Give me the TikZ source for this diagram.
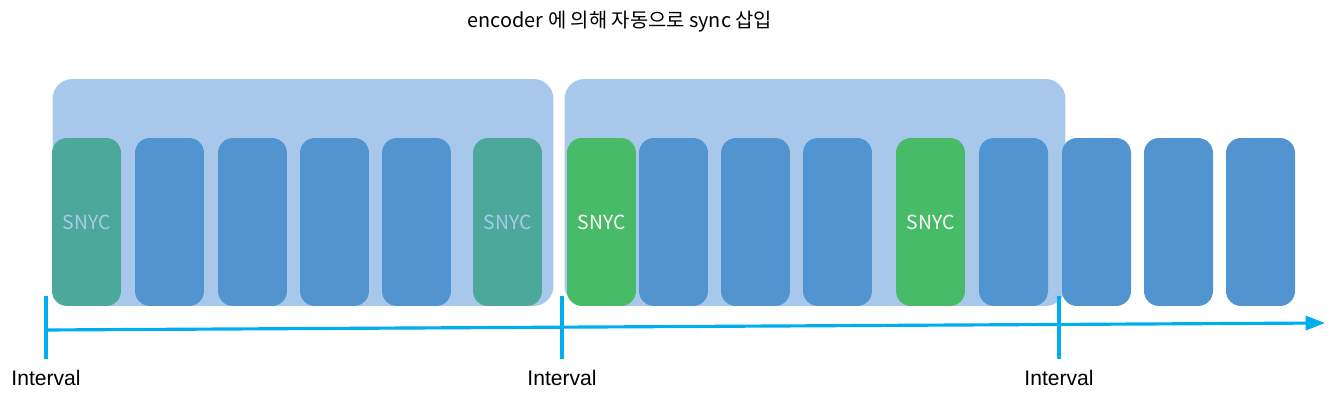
\documentclass[tikz,border=0pt]{standalone}
\usepackage{fontspec}
\setmainfont{Liberation Sans}
\newfontfamily\krfont{Noto Sans CJK KR}
\usepackage{xcolor}
\usepackage{tikz}
\usetikzlibrary{arrows.meta,calc,positioning}

\definecolor{gopbg}{HTML}{A7C8EA}
\definecolor{frameblue}{HTML}{5294D0}
\definecolor{oldsync}{HTML}{4BA89B}
\definecolor{newsync}{HTML}{48BB68}
\definecolor{oldtext}{HTML}{A9C9E6}
\definecolor{axiscol}{HTML}{00AEEF}

\tikzset{
  gop/.style={fill=gopbg,rounded corners=0.4cm,minimum width=10.02cm,minimum height=4.54cm,inner sep=0pt},
  frame/.style={fill=frameblue,rounded corners=0.3cm,minimum width=1.38cm,minimum height=3.36cm,inner sep=0pt},
  oldframe/.style={frame,fill=oldsync,text=oldtext,font=\krfont\fontsize{11}{13}\selectfont},
  newframe/.style={frame,fill=newsync,text=white,font=\krfont\fontsize{11}{13}\selectfont},
  axisline/.style={axiscol,line width=1.8pt},
  tickline/.style={axiscol,line width=2.1pt},
  ticklabel/.style={font=\fontsize{12}{14}\selectfont}
}

\begin{document}
\begin{tikzpicture}[x=0.02cm,y=-0.02cm]
\useasboundingbox (0,0) rectangle (1330,404);
\node[font=\krfont\fontsize{11.3}{13}\selectfont] (title) at (620,22) {encoder 에 의해 자동으로 sync 삽입};
% groups
\node[gop] (gop1) at (303,192.5) {};
\node[gop] (gop2) at (815,192.5) {};
% frames
\node[oldframe] (f1) at (86.5,222) {SNYC};
\node[frame] (f2) at (169.5,222) {};
\node[frame] (f3) at (252.5,222) {};
\node[frame] (f4) at (334.5,222) {};
\node[frame] (f5) at (416.5,222) {};
\node[oldframe] (f6) at (507.5,222) {SNYC};
\node[newframe] (f7) at (601.5,222) {SNYC};
\node[frame] (f8) at (673.5,222) {};
\node[frame] (f9) at (755.5,222) {};
\node[frame] (f10) at (837.5,222) {};
\node[newframe] (f11) at (930.5,222) {SNYC};
\node[frame] (f12) at (1013.5,222) {};
\node[frame] (f13) at (1096.5,222) {};
\node[frame] (f14) at (1178.5,222) {};
\node[frame] (f15) at (1260.5,222) {};
% time axis
\coordinate (start) at (46,330);
\coordinate (end) at (1325,323);
\draw[axisline,-{Triangle[length=11pt,width=8pt]}] (start) -- (end);
\coordinate (t1top) at (46,296);
\coordinate (t1bot) at (46,359);
\coordinate (t2top) at (562,296);
\coordinate (t2bot) at (562,359);
\coordinate (t3top) at (1059,296);
\coordinate (t3bot) at (1059,359);
\draw[tickline] (t1top) -- (t1bot);
\draw[tickline] (t2top) -- (t2bot);
\draw[tickline] (t3top) -- (t3bot);
\node[ticklabel,below=0.1cm of t1bot] (int1) {Interval};
\node[ticklabel,below=0.1cm of t2bot] (int2) {Interval};
\node[ticklabel,below=0.1cm of t3bot] (int3) {Interval};
\end{tikzpicture}
\end{document}
